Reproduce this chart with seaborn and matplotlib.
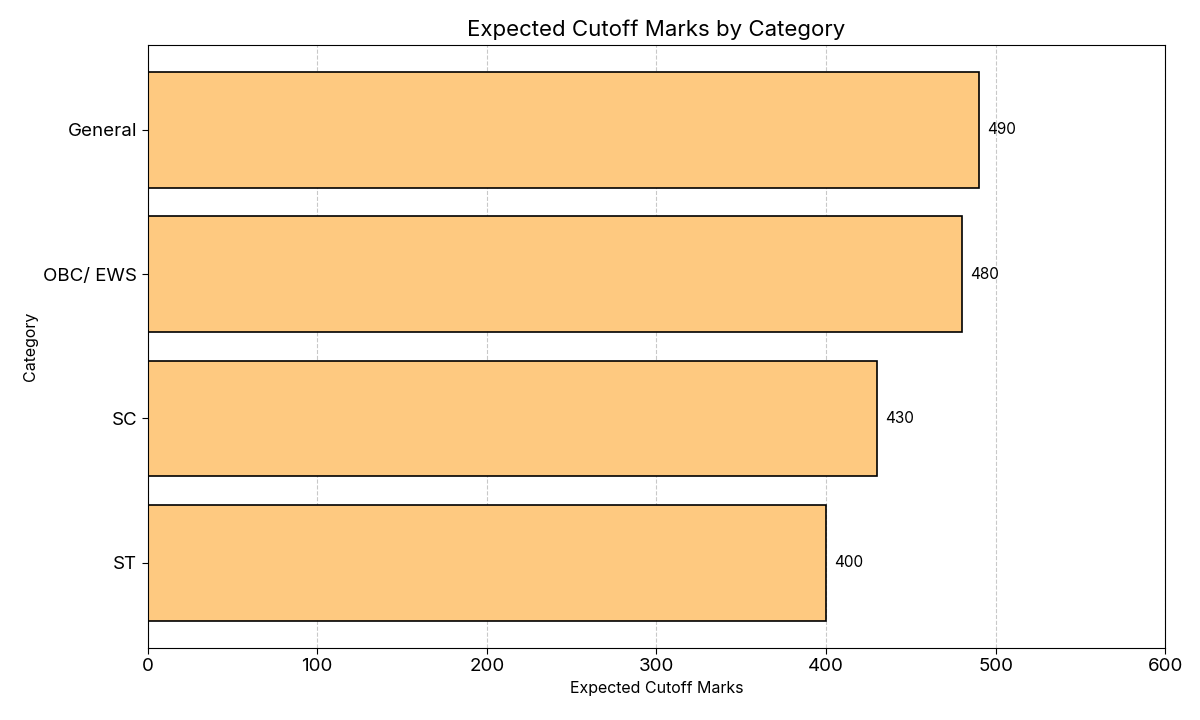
import matplotlib
matplotlib.use("Agg")
import matplotlib.pyplot as plt
import seaborn as sns
import pandas as pd

# data
categories = ["General", "OBC/ EWS", "SC", "ST"]
cutoff_marks = [490, 480, 430, 400]

sns.set_style("white")
plt.rcParams["font.family"] = ["Inter", "DejaVu Sans"]
plt.rcParams["text.color"] = "black"
plt.rcParams["axes.labelcolor"] = "black"
plt.rcParams["xtick.color"] = "black"
plt.rcParams["ytick.color"] = "black"

df = pd.DataFrame({"Category": categories, "Expected Cutoff Marks": cutoff_marks})

fig, ax = plt.subplots(figsize=(12, 7.2), dpi=100)

sns.barplot(
    data=df,
    x="Expected Cutoff Marks",
    y="Category",
    color="#FEC980",
    saturation=1,
    edgecolor="black",
    linewidth=1.2,
    width=0.8,
    ax=ax,
)

for i, v in enumerate(cutoff_marks):
    ax.text(v + 5, i, str(v), va="center", ha="left", fontsize=11)

ax.set_xlim(0, 600)
ax.set_ylim(3.59, -0.59)
ax.grid(axis="x", linestyle="--", color="#bbbbbb", alpha=0.8)
ax.set_axisbelow(True)
for s in ax.spines.values():
    s.set_color("black")
ax.tick_params(axis="both", which="both", length=4, labelsize=13.5, left=True, bottom=True)
ax.set_title("Expected Cutoff Marks by Category", fontsize=16)
ax.set_xlabel("Expected Cutoff Marks", fontsize=11.5)
ax.set_ylabel("Category", fontsize=11.5)

plt.subplots_adjust(left=0.123, right=0.971, top=0.938, bottom=0.1)
plt.savefig("out.png", dpi=100)
